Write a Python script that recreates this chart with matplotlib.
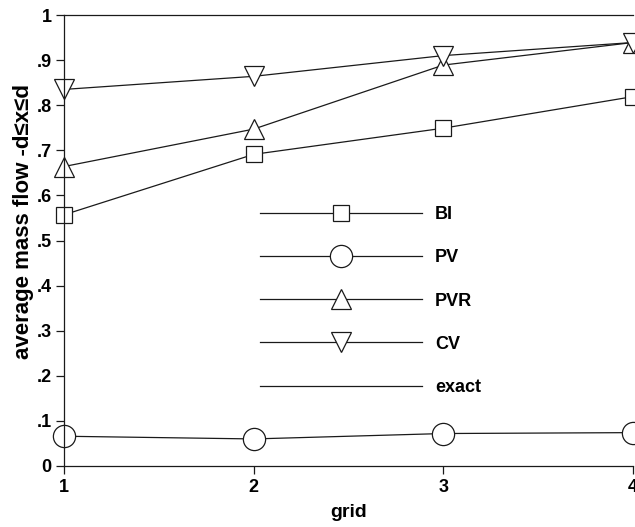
import matplotlib.pyplot as plt

plt.rcParams['font.family'] = ['Liberation Sans', 'DejaVu Sans']
plt.rcParams['font.weight'] = 'bold'

# grid levels
grid = [1, 2, 3, 4]

# average mass flow per scheme
bi = [0.557, 0.691, 0.749, 0.819]
pv = [0.066, 0.060, 0.072, 0.074]
pvr = [0.664, 0.747, 0.889, 0.939]
cv = [0.835, 0.864, 0.910, 0.939]
exact = [1.0, 1.0, 1.0, 1.0]

y_ticks = [0, .1, .2, .3, .4, .5, .6, .7, .8, .9, 1]
y_tick_labels = ['0', '.1', '.2', '.3', '.4', '.5', '.6', '.7', '.8', '.9', '1']

fig = plt.figure(figsize=(6.35, 5.27), dpi=100)
ax = fig.add_axes([64/635, 61/527, 569/635, 451/527])

lc = '#1a1a1a'
common = dict(color=lc, lw=0.9, mfc='white', mec=lc, mew=0.9, clip_on=False)
ax.plot(grid, bi, marker='s', ms=11.5, label='BI', **common)
ax.plot(grid, pv, marker='o', ms=16, label='PV', **common)
ax.plot(grid, pvr, marker='^', ms=14, label='PVR', **common)
ax.plot(grid, cv, marker='v', ms=14, label='CV', **common)
ax.plot(grid, exact, color=lc, lw=0.9, label='exact', clip_on=False)

ax.set_xlim(1, 4)
ax.set_ylim(0, 1)
ax.set_xticks(grid)
ax.set_yticks(y_ticks)
ax.set_yticklabels(y_tick_labels)
ax.tick_params(direction='out', length=6, width=0.9, color=lc, labelsize=13, pad=3)
for s in ['top', 'right']:
    ax.spines[s].set_visible(False)
for s in ['left', 'bottom']:
    ax.spines[s].set_linewidth(0.9)
    ax.spines[s].set_color(lc)

ax.set_xlabel('grid', fontsize=14, fontweight='bold', labelpad=6)
ax.set_ylabel('average mass flow -d≤x≤d', fontsize=16, fontweight='bold')
ax.yaxis.set_label_coords(-0.053, 0.543)

ax.legend(loc='upper left', bbox_to_anchor=(0.3445, 0.576), frameon=False,
          fontsize=13, numpoints=1, handlelength=8.97, handletextpad=0.72,
          labelspacing=1.45, borderpad=0, borderaxespad=0)

fig.savefig('out.png', dpi=100)
